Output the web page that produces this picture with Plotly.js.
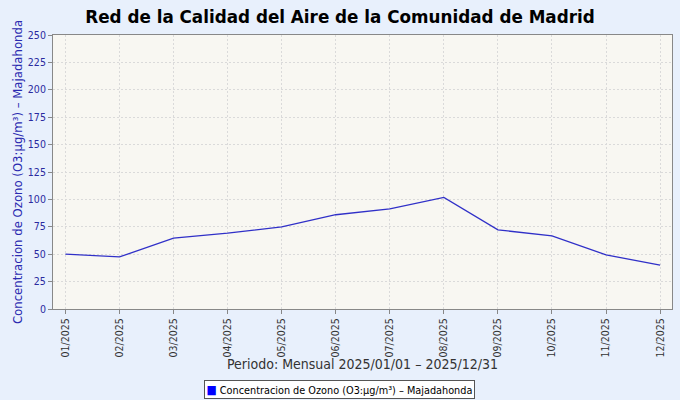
<!DOCTYPE html>
<html>
<head>
<meta charset="utf-8">
<script src="https://cdn.plot.ly/plotly-3.0.1.min.js"></script>
<style>
html,body{margin:0;padding:0;background:#e8f0fc;}
#chart{width:680px;height:400px;}
</style>
</head>
<body>
<div id="chart"></div>
<script>
var months = ["01/2025","02/2025","03/2025","04/2025","05/2025","06/2025","07/2025","08/2025","09/2025","10/2025","11/2025","12/2025"];
var ozone = [50, 47.5, 64.6, 69.2, 74.9, 86, 91.3, 101.9, 72.2, 66.7, 49.4, 40];
var seriesName = "Concentracion de Ozono (O3:µg/m³) – Majadahonda";
var xTitle = "Periodo: Mensual 2025/01/01 – 2025/12/31";
var yTicks = [0,25,50,75,100,125,150,175,200,225,250];

var condensed = "DejaVu Sans Condensed, DejaVu Sans";
var lineColor = "#3030c8";
var legendColor = "#0000ff";

var traces = [
  {
    x: months, y: ozone, type: "scatter", mode: "lines",
    name: seriesName,
    line: {color: lineColor, width: 1.3},
    showlegend: false, hoverinfo: "x+y"
  }
];

var layout = {
  width: 680, height: 400,
  paper_bgcolor: "#e8f0fc",
  plot_bgcolor: "#f8f7f2",
  margin: {l: 53, r: 8, t: 35, b: 91},
  title: {
    text: "<b>Red de la Calidad del Aire de la Comunidad de Madrid</b>",
    font: {family: "DejaVu Sans", size: 16.8, color: "#000"},
    x: 0.5, xanchor: "center", xref: "container",
    y: 1 - 17/400, yanchor: "middle", yref: "container"
  },
  xaxis: {
    type: "category",
    range: [-0.23, 11.22],
    tickangle: -90,
    tickfont: {family: condensed, size: 10.5, color: "#333"},
    ticks: "outside", ticklen: 4, tickcolor: "#888",
    showgrid: true, gridcolor: "#dadada", griddash: "2px,2px", gridwidth: 1,
    showline: true, linecolor: "#888", linewidth: 1, mirror: true,
    zeroline: false
  },
  yaxis: {
    range: [0, 250],
    tickvals: yTicks,
    ticktext: yTicks.map(String),
    tickfont: {family: condensed, size: 10.5, color: "#2a2aa0"},
    ticks: "outside", ticklen: 4, tickcolor: "#888",
    showgrid: true, gridcolor: "#dadada", griddash: "2px,2px", gridwidth: 1,
    showline: true, linecolor: "#888", linewidth: 1, mirror: true,
    zeroline: false,
    title: {
      text: seriesName,
      font: {family: condensed, size: 13, color: "#2a2ab0"},
      standoff: 2
    }
  },
  annotations: [
    {
      text: xTitle,
      xref: "paper", yref: "paper",
      x: 0.5, y: -55/274, xanchor: "center", yanchor: "middle",
      showarrow: false,
      font: {family: condensed, size: 14, color: "#333"}
    },
    {
      text: '<span style="color:' + legendColor + '; font-size:12px">■</span> ' + seriesName,
      xref: "paper", yref: "paper",
      x: (339.5 - 53) / 619, y: -80/274, xanchor: "center", yanchor: "middle",
      showarrow: false,
      bgcolor: "#ffffff", bordercolor: "#555", borderwidth: 1, borderpad: 1.5,
      font: {family: condensed, size: 10.8, color: "#000"}
    }
  ],
  showlegend: false
};

Plotly.newPlot("chart", traces, layout, {displayModeBar: false, staticPlot: true});
</script>
</body>
</html>
